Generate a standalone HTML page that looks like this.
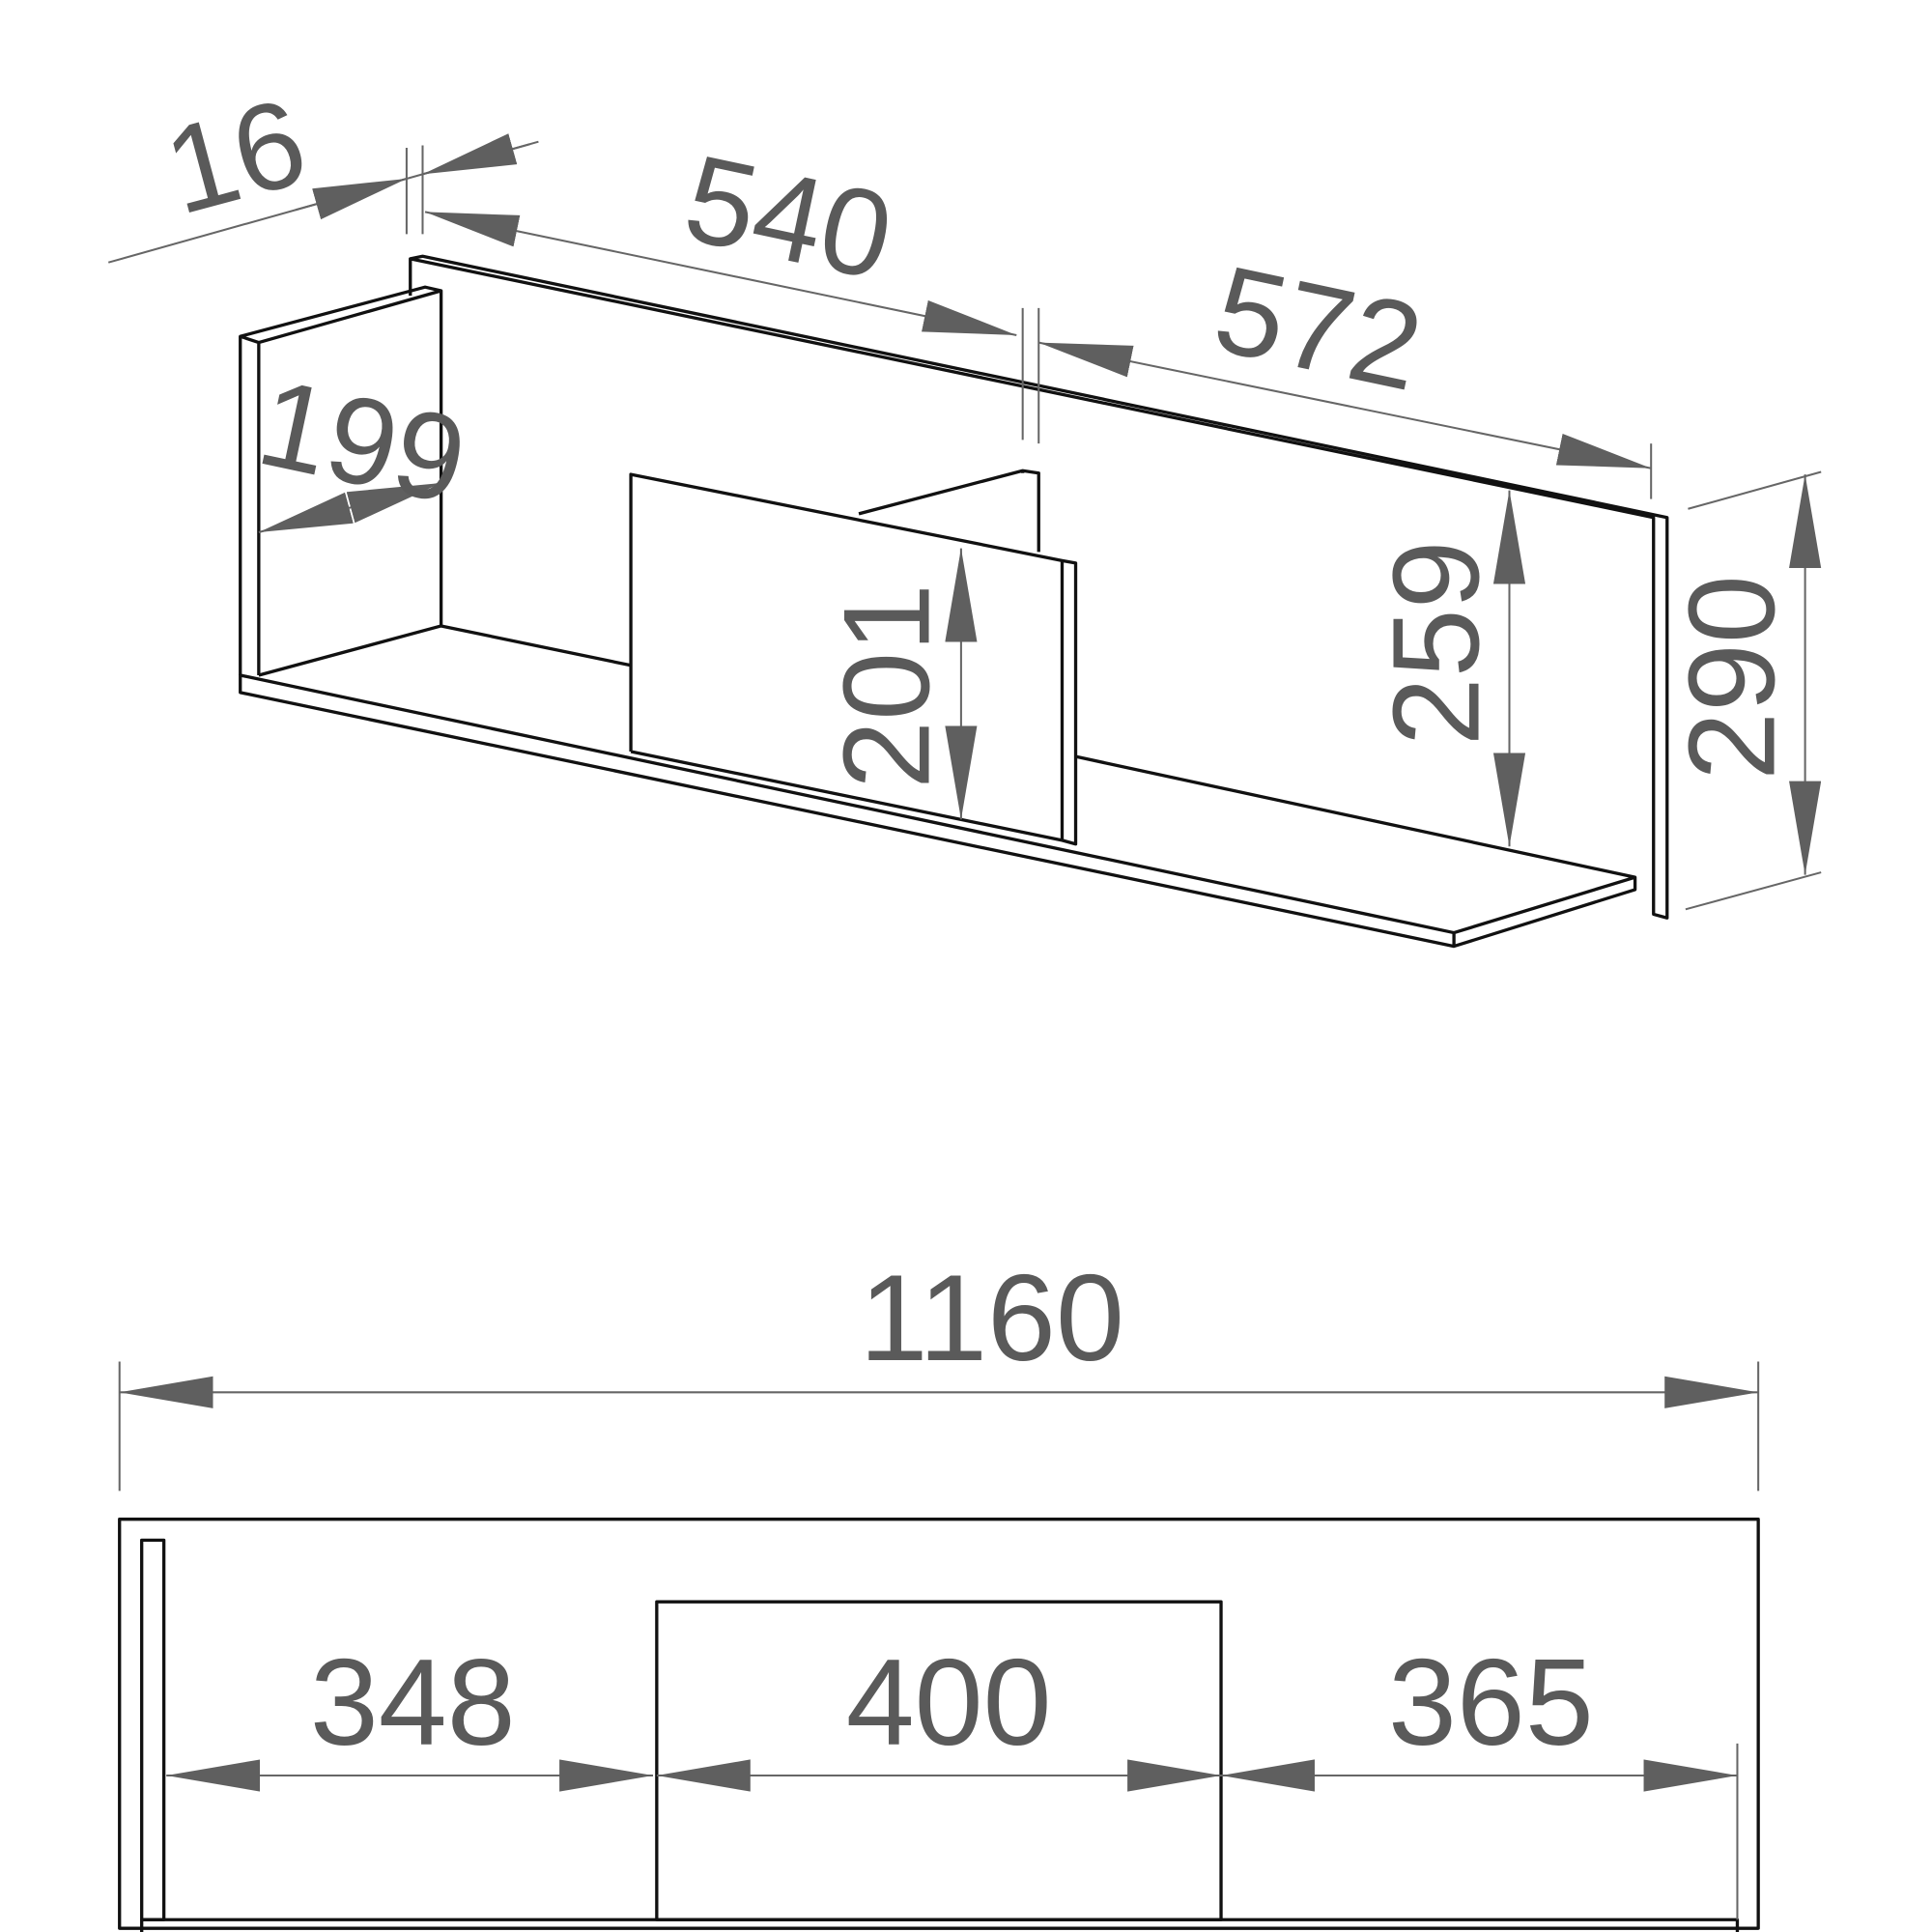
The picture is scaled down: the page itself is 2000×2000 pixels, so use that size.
<!DOCTYPE html>
<html><head><meta charset="utf-8"><style>
html,body{margin:0;padding:0;background:#fff;width:2000px;height:2000px;overflow:hidden}
svg{display:block}
text{font-family:"Liberation Sans",sans-serif;fill:#5a5a5a;font-size:100px}
</style></head><body>
<svg width="2000" height="2000" viewBox="0 0 1568 1568" xmlns="http://www.w3.org/2000/svg">
<defs>
<marker id="a" markerUnits="userSpaceOnUse" markerWidth="80" markerHeight="30" refX="76" refY="13" orient="auto-start-reverse"><path d="M0,0 L76,13 L0,26 Z" fill="#5f5f5f"/></marker>
</defs>
<g fill="none" stroke="#111" stroke-width="2.6" stroke-linejoin="round">
<path d="M333,240 L333,210 L343,208 L1353,420 L1353,745 L1342,742 L1342,420 L333,210"/>
<path d="M195,548 L195,273 L345,233 L358,236 L210,278 L195,273 M210,278 L210,548 M358,236 L358,508"/>
<path d="M195,548 L1180,757 L1327,712 L1327,722 L1180,768 L195,562 Z M1180,757 L1180,768 M210,548 L358,508 L512,540 M873,614 L1327,712"/>
<path d="M697,417 L830,382 L843,384 L843,448 M830,382 L830,384"/>
<path d="M512,610 L512,385 L862,455 L873,457 L873,685 L862,682 L512,610 M862,455 L862,682"/>
<rect x="97" y="1233" width="1330" height="332"/>
<rect x="115" y="1250" width="18" height="308"/>
<rect x="115" y="1558" width="1295" height="18"/>
<rect x="533" y="1300" width="458" height="258"/>
</g>
<g stroke="#666" stroke-width="1.6" fill="none">
<line x1="88" y1="213" x2="437" y2="115"/>
<line x1="330" y1="120" x2="330" y2="190"/><line x1="343" y1="118" x2="343" y2="190"/>
<line x1="830" y1="250" x2="830" y2="357"/><line x1="843" y1="250" x2="843" y2="360"/>
<line x1="1340" y1="360" x2="1340" y2="405"/>
<line x1="1370" y1="413" x2="1478" y2="383"/><line x1="1368" y1="738" x2="1478" y2="708"/>
<line x1="97" y1="1105" x2="97" y2="1210"/><line x1="1427" y1="1105" x2="1427" y2="1210"/>
<line x1="1410" y1="1415" x2="1410" y2="1558"/>
</g>
<g stroke="#666" stroke-width="1.6" fill="none" marker-end="url(#a)">
<line x1="240" y1="170.3" x2="330" y2="145" />
<line x1="430" y1="117" x2="343" y2="141.4" />
</g>
<g stroke="#666" stroke-width="1.6" fill="none" marker-start="url(#a)" marker-end="url(#a)">
<line x1="345" y1="172" x2="825" y2="272"/>
<line x1="843" y1="278" x2="1340" y2="380"/>
<line x1="1465" y1="385" x2="1465" y2="710"/>
<line x1="1225" y1="398" x2="1225" y2="687"/>
<line x1="780" y1="445" x2="780" y2="665"/>
<line x1="210" y1="432" x2="358" y2="392"/>
<line x1="97" y1="1130" x2="1427" y2="1130"/>
<line x1="135" y1="1441" x2="530" y2="1441"/>
<line x1="533" y1="1441" x2="991" y2="1441"/>
<line x1="991" y1="1441" x2="1410" y2="1441"/>
</g>
<text transform="translate(200,160) rotate(-15)" text-anchor="middle">16</text>
<text transform="translate(633,210) rotate(12)" text-anchor="middle">540</text>
<text transform="translate(1063,300) rotate(12)" text-anchor="middle">572</text>
<text transform="translate(287,392) rotate(12)" text-anchor="middle" font-size="95">199</text>
<text transform="translate(754,557) rotate(-90)" text-anchor="middle">201</text>
<text transform="translate(1200,522) rotate(-90)" text-anchor="middle">259</text>
<text transform="translate(1440,550) rotate(-90)" text-anchor="middle">290</text>
<text x="805" y="1104" text-anchor="middle">1160</text>
<text x="335" y="1416" text-anchor="middle">348</text>
<text x="770" y="1416" text-anchor="middle">400</text>
<text x="1210" y="1416" text-anchor="middle">365</text>
</svg>
</body></html>
